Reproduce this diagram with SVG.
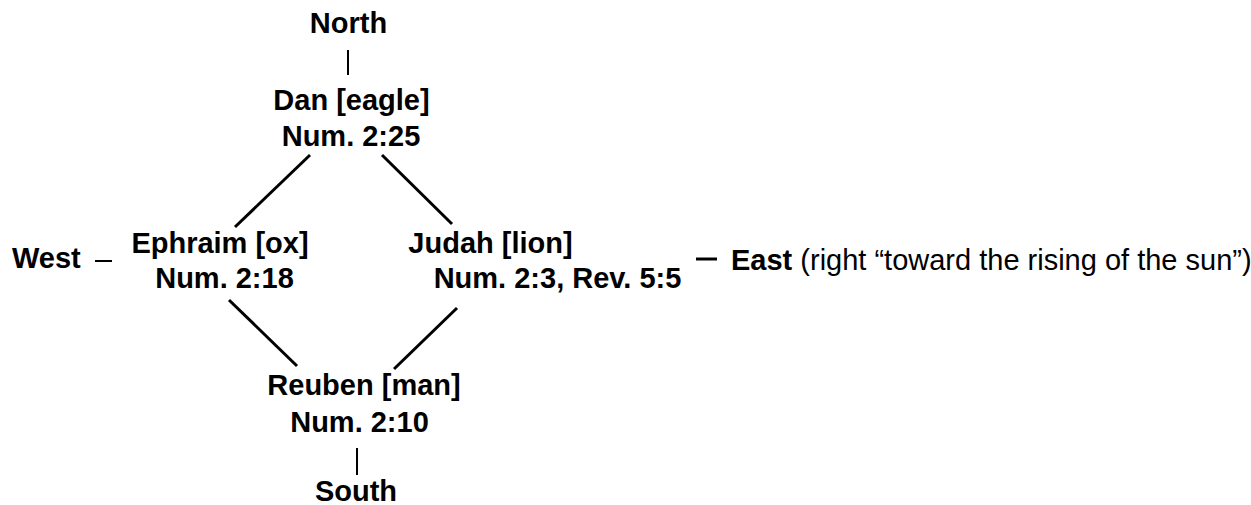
<svg xmlns="http://www.w3.org/2000/svg" width="1251" height="505" viewBox="0 0 1251 505">
<style>
text { font-family: "Liberation Sans", Arial, sans-serif; font-size: 29px; fill: #000; }
.b { font-weight: bold; }
.r { font-weight: normal; }
.ln { stroke: #000; stroke-width: 3; stroke-linecap: butt; fill: none; }
.vl { stroke: #000; stroke-width: 2; fill: none; }
</style>
<rect width="1251" height="505" fill="#fff"/>
<g id="connectors">
<line class="vl" x1="348" y1="50" x2="348" y2="75"/>
<line class="ln" x1="310" y1="155" x2="235" y2="227"/>
<line class="ln" x1="382" y1="155" x2="452" y2="224"/>
<line class="ln" x1="229" y1="300" x2="297" y2="366"/>
<line class="ln" x1="457" y1="308" x2="394" y2="369"/>
<line class="vl" x1="357" y1="448" x2="357" y2="475"/>
<line class="vl" x1="95" y1="261" x2="112" y2="261"/>
<line class="ln" x1="696" y1="259" x2="717" y2="259"/>
</g>
<g id="north"><text class="b" x="348.5" y="33" text-anchor="middle">North</text></g>
<g id="dan">
<text class="b" x="351.5" y="110" text-anchor="middle">Dan [eagle]</text>
<text class="b" x="351" y="146" text-anchor="middle">Num. 2:25</text>
</g>
<g id="west"><text class="b" x="12" y="268">West</text></g>
<g id="ephraim">
<text class="b" x="220" y="253" text-anchor="middle">Ephraim [ox]</text>
<text class="b" x="224.5" y="288" text-anchor="middle">Num. 2:18</text>
</g>
<g id="judah">
<text class="b" x="490.5" y="253" text-anchor="middle">Judah [lion]</text>
<text class="b" x="557.5" y="288" text-anchor="middle">Num. 2:3, Rev. 5:5</text>
</g>
<g id="east"><text x="731" y="270"><tspan class="b">East</tspan><tspan class="r"> (right “toward the rising of the sun”)</tspan></text></g>
<g id="reuben">
<text class="b" x="364" y="395" text-anchor="middle">Reuben [man]</text>
<text class="b" x="359.5" y="432" text-anchor="middle">Num. 2:10</text>
</g>
<g id="south"><text class="b" x="356" y="501" text-anchor="middle">South</text></g>
</svg>
